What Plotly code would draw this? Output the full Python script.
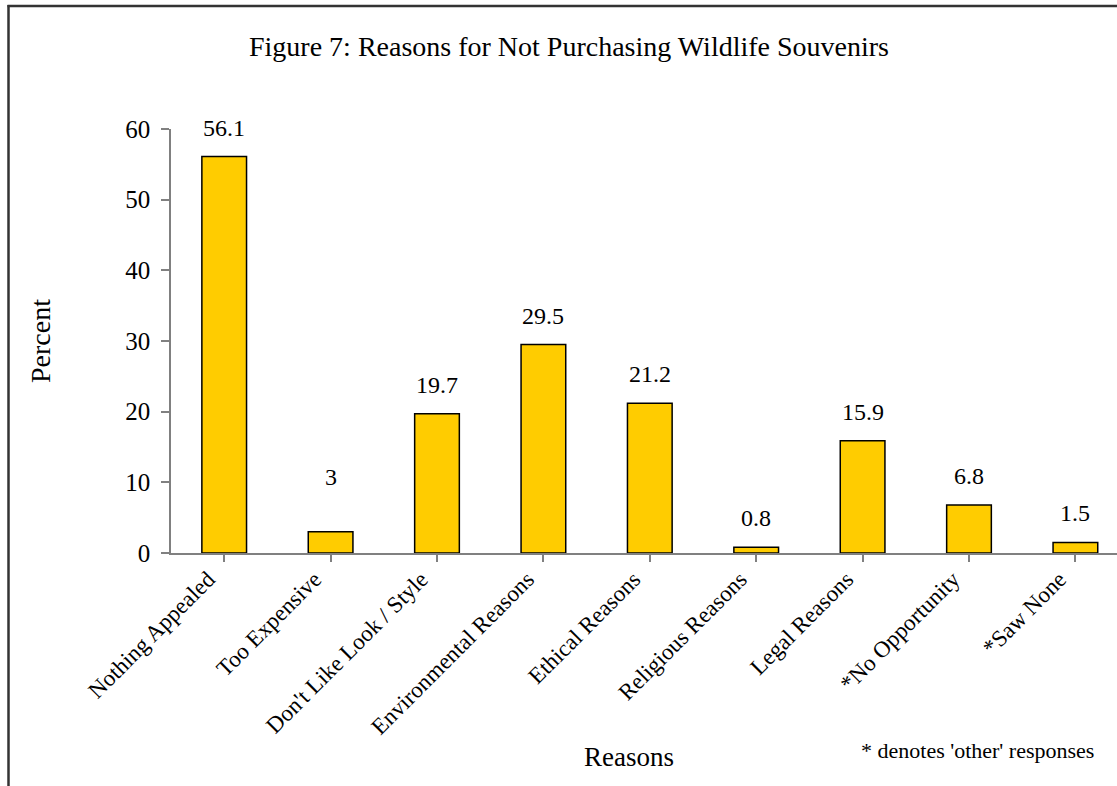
import plotly.graph_objects as go

categories = ["Nothing Appealed", "Too Expensive", "Don't Like Look / Style",
              "Environmental Reasons", "Ethical Reasons", "Religious Reasons",
              "Legal Reasons", "*No Opportunity", "*Saw None"]
values = [56.1, 3, 19.7, 29.5, 21.2, 0.8, 15.9, 6.8, 1.5]
value_labels = ["56.1", "3", "19.7", "29.5", "21.2", "0.8", "15.9", "6.8", "1.5"]
y_ticks = [0, 10, 20, 30, 40, 50, 60]

W, H = 1117, 786
L, T, B = 171, 129, 553
R = W
pw, ph = R - L, B - T

def px(x):
    return (x - L) / pw

def py(y):
    return (B - y) / ph

FONT = "Liberation Serif"
xs = list(range(len(categories)))

fig = go.Figure()
fig.add_trace(go.Bar(
    x=xs, y=values,
    marker=dict(color="#FFCC00", line=dict(color="#000000", width=1.5)),
    width=0.42, hoverinfo="skip",
))

annotations = []
for i, (xv, v, lab) in enumerate(zip(xs, values, value_labels)):
    annotations.append(dict(
        x=xv, y=v, xref="x", yref="y", text=lab, showarrow=False,
        yanchor="middle", yshift=29 + (26 if i == 1 else 0),
        font=dict(family=FONT, size=24, color="#000"),
    ))

annotations += [
    dict(x=px(629), y=py(757), xref="paper", yref="paper", text="Reasons",
         showarrow=False, xanchor="center", yanchor="middle",
         font=dict(family=FONT, size=27, color="#000")),
    dict(x=px(1096), y=py(750), xref="paper", yref="paper",
         text="* denotes 'other' responses", showarrow=False,
         xanchor="right", yanchor="middle",
         font=dict(family=FONT, size=22, color="#000")),
    dict(x=px(40), y=0.5, xref="paper", yref="paper", text="Percent",
         showarrow=False, textangle=-90, xanchor="center", yanchor="middle",
         font=dict(family=FONT, size=28, color="#000")),
]

shapes = [
    dict(type="line", xref="paper", yref="paper",
         x0=px(8.5), x1=px(8.5), y0=py(5), y1=py(820),
         line=dict(color="#333333", width=2.5), layer="above"),
    dict(type="line", xref="paper", yref="paper",
         x0=px(7.5), x1=px(1140), y0=py(6), y1=py(6),
         line=dict(color="#333333", width=2.5), layer="above"),
]

fig.update_layout(
    width=W, height=H,
    margin=dict(l=L, r=W - R, t=T, b=H - B, pad=0),
    paper_bgcolor="white", plot_bgcolor="white",
    showlegend=False,
    title=dict(text="Figure 7: Reasons for Not Purchasing Wildlife Souvenirs",
               x=569 / W, xanchor="center", xref="container",
               y=1 - 46 / H, yanchor="middle", yref="container",
               font=dict(family=FONT, size=28, color="#000")),
    annotations=annotations,
    shapes=shapes,
    font=dict(family=FONT, color="#000"),
)

fig.update_xaxes(
    range=[-0.5, -0.5 + pw / 106.4],
    tickmode="array", tickvals=xs, ticktext=categories,
    tickangle=-45, tickson="boundaries",
    ticks="outside", ticklen=7, tickcolor="#808080", tickwidth=1.5,
    showline=True, linecolor="#808080", linewidth=1.5,
    showgrid=False, zeroline=False,
    ticklabelshift=-16, ticklabelstandoff=-5,
    tickfont=dict(family=FONT, size=23, color="#000"),
)
fig.update_yaxes(
    range=[0, 60],
    tickmode="array", tickvals=y_ticks,
    ticks="outside", ticklen=8, tickcolor="#808080", tickwidth=1.5,
    showline=True, linecolor="#808080", linewidth=1.5,
    showgrid=False, zeroline=False, ticklabelstandoff=6,
    tickfont=dict(family=FONT, size=25, color="#000"),
)

fig.write_html(
    "out.html",
    config={"displayModeBar": False},
    post_script="document.body.style.margin='0';document.body.style.overflow='hidden';",
)
